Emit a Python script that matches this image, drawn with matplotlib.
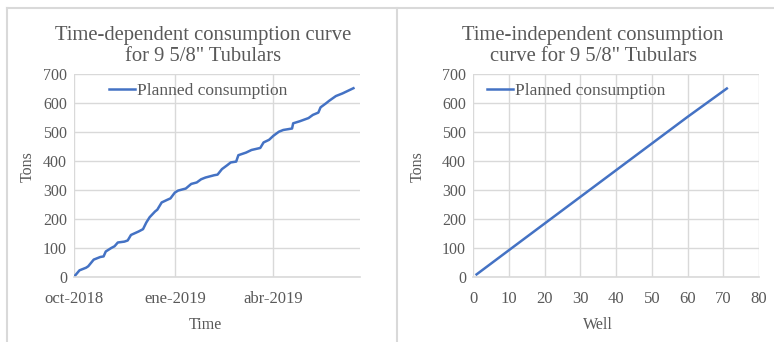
import matplotlib
matplotlib.use("Agg")
import matplotlib.pyplot as plt
import matplotlib.dates as mdates
import numpy as np
from datetime import date

plt.rcParams.update({
    "font.family": "Liberation Serif",
    "font.size": 11,
})

# curva dependiente del tiempo
fechas = ["2018-10-02", "2018-10-06", "2018-10-12", "2018-10-14", "2018-10-19",
          "2018-10-25", "2018-10-28", "2018-10-30", "2018-11-04", "2018-11-07",
          "2018-11-10", "2018-11-16", "2018-11-19", "2018-11-22", "2018-11-29",
          "2018-12-03", "2018-12-06", "2018-12-09", "2018-12-14", "2018-12-16",
          "2018-12-20", "2018-12-25", "2018-12-28", "2019-01-01", "2019-01-04",
          "2019-01-11", "2019-01-16", "2019-01-21", "2019-01-25", "2019-01-29",
          "2019-02-06", "2019-02-09", "2019-02-13", "2019-02-18", "2019-02-21",
          "2019-02-26", "2019-02-28", "2019-03-07", "2019-03-12", "2019-03-20",
          "2019-03-23", "2019-03-28", "2019-04-01", "2019-04-06", "2019-04-10",
          "2019-04-18", "2019-04-19", "2019-04-25", "2019-05-03", "2019-05-07",
          "2019-05-12", "2019-05-14", "2019-05-19", "2019-05-22", "2019-05-28",
          "2019-06-03", "2019-06-13"]
toneladas_t = [5, 23, 32, 37, 60, 69, 71, 88, 100, 106,
               119, 122, 126, 145, 157, 165, 188, 206, 226, 232,
               257, 266, 271, 291, 298, 305, 321, 326, 337, 343,
               351, 353, 372, 386, 395, 398, 420, 429, 438, 445,
               464, 473, 487, 501, 507, 512, 530, 537, 548, 559,
               567, 585, 599, 608, 624, 633, 651]
ticks_fecha = ["2018-10-01", "2019-01-01", "2019-04-01"]
ticks_etiq = ["oct-2018", "ene-2019", "abr-2019"]

# curva independiente del tiempo
pozos = [1, 10, 20, 30, 40, 50, 60, 71]
toneladas_p = [9, 92, 184, 276, 368, 460, 552, 650]

AZUL = "#4472C4"
GRIS = "#595959"
REJILLA = "#D9D9D9"

fig = plt.figure(figsize=(7.74, 3.42), dpi=100)
W, H = 774, 342

def px(x, y):
    return x / W, 1 - y / H

def estilo(ax):
    for lado in ["top", "right", "left"]:
        ax.spines[lado].set_visible(False)
    ax.spines["bottom"].set_color(REJILLA)
    ax.spines["bottom"].set_linewidth(1.2)
    ax.grid(True, color=REJILLA, linewidth=1.0)
    ax.set_axisbelow(True)
    ax.tick_params(length=0, colors=GRIS, labelsize=11.5)
    ax.tick_params(axis="x", pad=10, labelsize=12)
    ax.tick_params(axis="y", pad=5)
    ax.set_ylim(0, 700)
    ax.set_yticks(np.arange(0, 701, 100))

# panel izquierdo
ax1 = fig.add_axes([74 / W, 1 - 277 / H, 286 / W, 203 / H])
estilo(ax1)
x1 = [mdates.datestr2num(f) for f in fechas]
ax1.plot(x1, toneladas_t, color=AZUL, linewidth=1.8, label="Planned consumption")
ax1.set_xlim(mdates.date2num(date(2018, 10, 1)), mdates.date2num(date(2019, 6, 19)))
ax1.set_xticks([mdates.datestr2num(f) for f in ticks_fecha])
ax1.set_xticklabels(ticks_etiq)
ax1.legend(loc="center left", bbox_to_anchor=px(109, 91), bbox_transform=fig.transFigure,
           frameon=False, fontsize=12.5, handlelength=1.5, handletextpad=0.1,
           borderpad=0, borderaxespad=0, labelcolor=GRIS)

# panel derecho
ax2 = fig.add_axes([473 / W, 1 - 277 / H, 286 / W, 203 / H])
estilo(ax2)
ax2.plot(pozos, toneladas_p, color=AZUL, linewidth=1.8, label="Planned consumption")
ax2.set_xlim(0, 80)
ax2.set_xticks(np.arange(0, 81, 10))
ax2.legend(loc="center left", bbox_to_anchor=px(487, 91), bbox_transform=fig.transFigure,
           frameon=False, fontsize=12.5, handlelength=1.5, handletextpad=0.1,
           borderpad=0, borderaxespad=0, labelcolor=GRIS)

# títulos y ejes
fig.text(*px(203, 46), "Time-dependent consumption curve\nfor 9 5/8\" Tubulars",
         ha="center", va="center", fontsize=14.9, color=GRIS, linespacing=1.1)
fig.text(*px(593, 46), "Time-independent consumption\ncurve for 9 5/8\" Tubulars",
         ha="center", va="center", fontsize=14.9, color=GRIS, linespacing=1.1)
fig.text(*px(205, 325), "Time", ha="center", va="center", fontsize=11.5, color=GRIS)
fig.text(*px(598, 325), "Well", ha="center", va="center", fontsize=11.5, color=GRIS)
fig.text(*px(28, 167), "Tons", ha="center", va="center", rotation=90, fontsize=11.5, color=GRIS)
fig.text(*px(418, 167), "Tons", ha="center", va="center", rotation=90, fontsize=11.5, color=GRIS)

# marcos de los gráficos
borde = dict(color="#D9D9D9", linewidth=1.5, transform=fig.transFigure)
fig.add_artist(plt.Line2D([7 / W, 1], [1 - 8 / H] * 2, **borde))
fig.add_artist(plt.Line2D([7 / W] * 2, [0, 1 - 8 / H], **borde))
fig.add_artist(plt.Line2D([397 / W] * 2, [0, 1 - 8 / H], **borde))

fig.savefig("out.png", dpi=100)
